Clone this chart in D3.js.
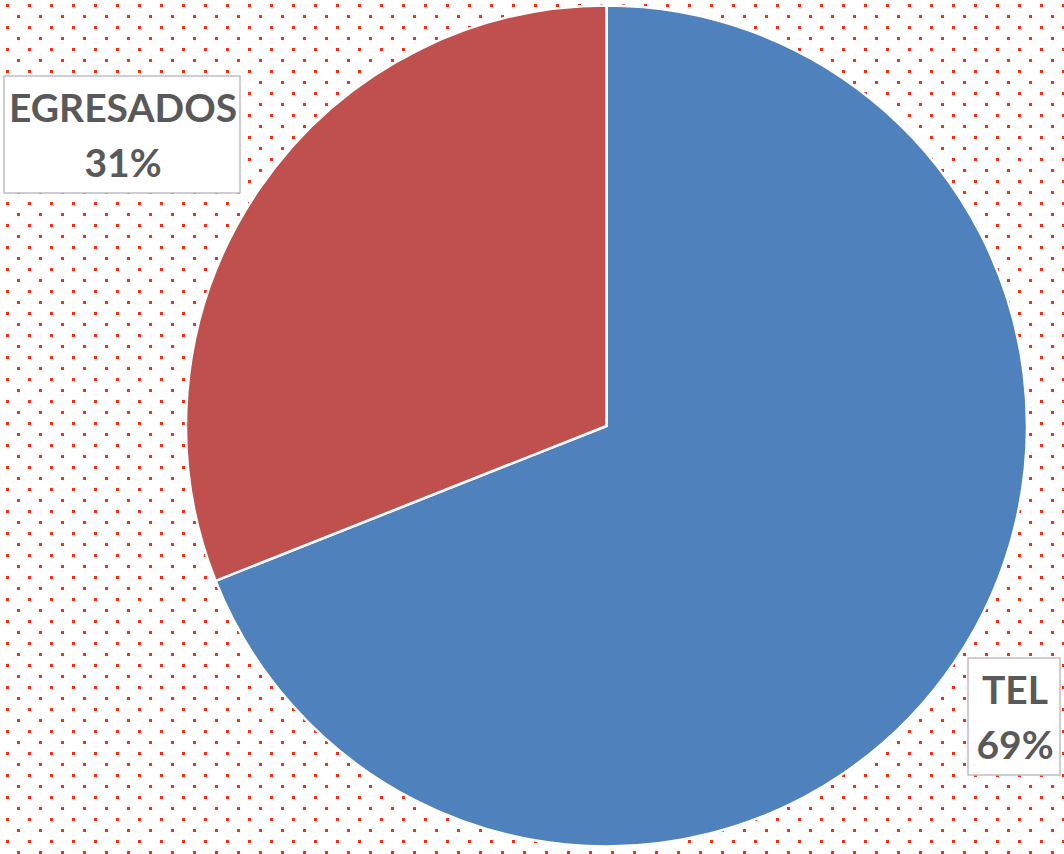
<!DOCTYPE html>
<html>
<head>
<meta charset="utf-8">
<script src="https://cdn.jsdelivr.net/npm/d3@7"></script>
<style>
  html, body { margin: 0; padding: 0; background: #fff; }
  svg { display: block; }
</style>
</head>
<body>
<div id="chart"></div>
<script>
var categories = ["TEL", "EGRESADOS"];
var values = [69, 31];
var percentLabels = ["69%", "31%"];
var colors = ["#4F81BD", "#C0504D"];

var width = 1064,
    height = 854,
    cx = 606.5,
    cy = 426,
    radius = 420.5;

var svg = d3.select("#chart").append("svg")
    .attr("width", width)
    .attr("height", height);

// dotted background
var defs = svg.append("defs");
var pat = defs.append("pattern")
    .attr("id", "dots")
    .attr("patternUnits", "userSpaceOnUse")
    .attr("x", 6).attr("y", 4)
    .attr("width", 22).attr("height", 22);
pat.append("rect").attr("x", 0).attr("y", 0).attr("width", 3).attr("height", 3).attr("fill", "#ff2a10");
pat.append("rect").attr("x", 11).attr("y", 11).attr("width", 3).attr("height", 3).attr("fill", "#ff2a10");

svg.append("rect")
    .attr("width", width)
    .attr("height", height)
    .attr("fill", "url(#dots)");

var data = categories.map(function (c, i) {
    return { name: c, value: values[i], label: percentLabels[i], color: colors[i] };
});

var pie = d3.pie()
    .sort(null)
    .value(function (d) { return d.value; });

var arc = d3.arc()
    .outerRadius(radius)
    .innerRadius(0);

var g = svg.append("g")
    .attr("transform", "translate(" + cx + "," + cy + ")");

g.selectAll(".arc")
    .data(pie(data))
    .enter().append("path")
    .attr("class", "arc")
    .attr("d", arc)
    .attr("fill", function (d) { return d.data.color; })
    .attr("stroke", "#fff")
    .attr("stroke-width", 2.5)
    .attr("stroke-linejoin", "round");

// data label boxes (placement of callouts)
var boxes = [
    { x: 968, y: 658, w: 92, h: 117 },   // TEL
    { x: 4, y: 76, w: 236, h: 117 }      // EGRESADOS
];

var labels = svg.selectAll(".lbl")
    .data(data)
    .enter().append("g")
    .attr("class", "lbl")
    .attr("transform", function (d, i) { return "translate(" + boxes[i].x + "," + boxes[i].y + ")"; });

labels.append("rect")
    .attr("width", function (d, i) { return boxes[i].w; })
    .attr("height", function (d, i) { return boxes[i].h; })
    .attr("fill", "#fff")
    .attr("stroke", "#bfbfbf")
    .attr("stroke-width", 1.5);

var txt = labels.append("text")
    .attr("text-anchor", "middle")
    .attr("font-family", "Lato, 'Open Sans', sans-serif")
    .attr("font-weight", "bold")
    .attr("font-size", 39)
    .attr("fill", "#595959");

txt.append("tspan")
    .attr("x", function (d, i) { return boxes[i].w / 2 + 1; })
    .attr("y", 46)
    .text(function (d) { return d.name; });

txt.append("tspan")
    .attr("x", function (d, i) { return boxes[i].w / 2 + 1; })
    .attr("y", 101)
    .text(function (d) { return d.label; });
</script>
</body>
</html>
